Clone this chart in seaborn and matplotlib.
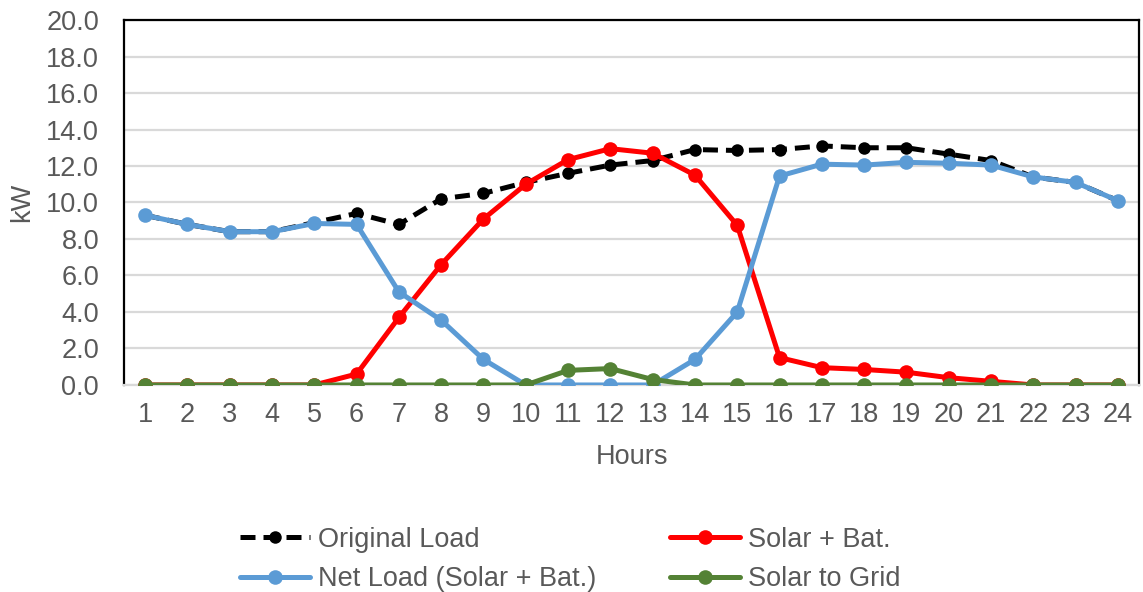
import numpy as np
import pandas as pd
import matplotlib
matplotlib.use("Agg")
import matplotlib.pyplot as plt
import seaborn as sns

hours = list(range(1, 25))
original_load = [9.3, 8.8, 8.4, 8.4, 8.9, 9.4, 8.8, 10.2, 10.5, 11.1, 11.6, 12.05,
                 12.3, 12.9, 12.85, 12.9, 13.1, 13.0, 13.0, 12.65, 12.3, 11.4, 11.1, 10.1]
solar_bat = [0.0, 0.0, 0.0, 0.0, 0.0, 0.6, 3.7, 6.6, 9.1, 11.0, 12.35, 12.95,
             12.7, 11.5, 8.75, 1.5, 0.95, 0.85, 0.7, 0.4, 0.2, 0.0, 0.0, 0.0]
net_load = [9.3, 8.8, 8.4, 8.4, 8.85, 8.8, 5.1, 3.55, 1.4, 0.0, 0.0, 0.0,
            0.0, 1.4, 4.0, 11.45, 12.1, 12.05, 12.2, 12.15, 12.05, 11.4, 11.1, 10.1]
solar_to_grid = [0.0, 0.0, 0.0, 0.0, 0.0, 0.0, 0.0, 0.0, 0.0, 0.0, 0.8, 0.9,
                 0.3, 0.0, 0.0, 0.0, 0.0, 0.0, 0.0, 0.0, 0.0, 0.0, 0.0, 0.0]

series_names = ["Original Load", "Solar + Bat.", "Net Load (Solar + Bat.)", "Solar to Grid"]
series_values = [original_load, solar_bat, net_load, solar_to_grid]
y_ticks = [0, 2, 4, 6, 8, 10, 12, 14, 16, 18, 20]

df = pd.concat(
    [pd.DataFrame({"Hours": hours, "kW": vals, "Series": name})
     for name, vals in zip(series_names, series_values)],
    ignore_index=True,
)

sns.set_style("white")
plt.rcParams["font.family"] = ["Liberation Sans", "DejaVu Sans"]
text_gray = "#595959"

fig = plt.figure(figsize=(11.43, 5.92), dpi=100)
ax = fig.add_axes([0.1085, 0.3497, 0.8880, 0.6165])

styles = {
    "Original Load": dict(color="black", marker="o", markersize=9, linewidth=3.6,
                          dashes=(3.0, 1.6)),
    "Solar + Bat.": dict(color="#FF0000", marker="o", markersize=10.5, linewidth=3.6),
    "Net Load (Solar + Bat.)": dict(color="#5B9BD5", marker="o", markersize=10.5, linewidth=3.6),
    "Solar to Grid": dict(color="#548235", marker="o", markersize=10.5, linewidth=3.6),
}

handles = {}
for z, name in enumerate(series_names):
    st = dict(styles[name])
    dashes = st.pop("dashes", None)
    sub = df[df["Series"] == name]
    sns.lineplot(data=sub, x="Hours", y="kW", ax=ax, label=name,
                 markeredgewidth=0, zorder=3 + z, **st)
    line = ax.get_lines()[-1]
    if dashes is not None:
        line.set_dashes(dashes)
        line.set_dash_capstyle("butt")
    line.set_solid_capstyle("round")
    handles[name] = line

ax.set_xlim(0.5, 24.5)
ax.set_ylim(0, 20)
ax.set_xticks(hours)
ax.set_yticks(y_ticks)
ax.set_yticklabels([f"{v:.1f}" for v in y_ticks])
ax.yaxis.grid(True, color="#D9D9D9", linewidth=1.6)
ax.xaxis.grid(False)
ax.set_axisbelow(True)

for side in ["left", "top", "right"]:
    ax.spines[side].set_visible(True)
    ax.spines[side].set_color("black")
    ax.spines[side].set_linewidth(1.6)
ax.spines["bottom"].set_color("#D9D9D9")
ax.spines["bottom"].set_linewidth(1.6)

ax.tick_params(axis="y", length=0, pad=18, labelsize=19.5, labelcolor=text_gray)
ax.tick_params(axis="x", length=0, pad=12, labelsize=19.5, labelcolor=text_gray)
ax.set_xlabel("Hours", fontsize=19.5, color=text_gray, labelpad=12)
ax.set_ylabel("kW", fontsize=19.5, color=text_gray, labelpad=8)

ax.get_legend().remove()
order = ["Original Load", "Net Load (Solar + Bat.)", "Solar + Bat.", "Solar to Grid"]
leg = fig.legend([handles[n] for n in order], order, loc="center",
                 bbox_to_anchor=(0.499, 0.055), ncol=2, frameon=False,
                 fontsize=19.5, handlelength=2.6, handletextpad=0.3,
                 columnspacing=2.7, labelspacing=0.5)
for t in leg.get_texts():
    t.set_color(text_gray)

fig.savefig("out.png", dpi=100)
